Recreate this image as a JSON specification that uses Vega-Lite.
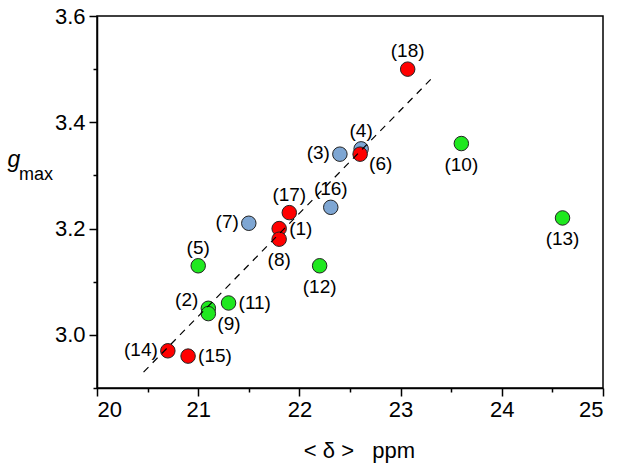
{
  "$schema": "https://vega.github.io/schema/vega-lite/v6.json",
  "width": 506,
  "height": 372,
  "autosize": "none",
  "padding": {"left": 97, "top": 16, "right": 21, "bottom": 80},
  "background": "white",
  "config": {
    "font": "Liberation Sans",
    "view": {"stroke": "black", "strokeWidth": 1.5},
    "axis": {
      "grid": false,
      "domainColor": "black",
      "domainWidth": 1.5,
      "tickColor": "black",
      "tickWidth": 1.5,
      "labelColor": "black",
      "labelFont": "Liberation Sans",
      "labelFontSize": 22,
      "titleColor": "black",
      "titleFont": "Liberation Sans",
      "titleFontWeight": "normal"
    }
  },
  "title": {
    "text": "max",
    "anchor": "start",
    "frame": "group",
    "orient": "top",
    "fontSize": 18,
    "fontWeight": "normal",
    "font": "Liberation Sans",
    "color": "black",
    "baseline": "alphabetic",
    "offset": 0,
    "dx": -78,
    "dy": 193
  },
  "datasets": {
    "pts": [
      {"id": 1, "label": "(1)", "series": "I", "delta": 21.8, "g": 3.20},
      {"id": 2, "label": "(2)", "series": "III", "delta": 21.1, "g": 3.05},
      {"id": 3, "label": "(3)", "series": "II", "delta": 22.4, "g": 3.34},
      {"id": 4, "label": "(4)", "series": "II", "delta": 22.61, "g": 3.35},
      {"id": 5, "label": "(5)", "series": "III", "delta": 21.0, "g": 3.13},
      {"id": 6, "label": "(6)", "series": "I", "delta": 22.6, "g": 3.34},
      {"id": 7, "label": "(7)", "series": "II", "delta": 21.5, "g": 3.21},
      {"id": 8, "label": "(8)", "series": "I", "delta": 21.8, "g": 3.18},
      {"id": 9, "label": "(9)", "series": "III", "delta": 21.1, "g": 3.04},
      {"id": 10, "label": "(10)", "series": "III", "delta": 23.6, "g": 3.36},
      {"id": 11, "label": "(11)", "series": "III", "delta": 21.3, "g": 3.06},
      {"id": 12, "label": "(12)", "series": "III", "delta": 22.2, "g": 3.13},
      {"id": 13, "label": "(13)", "series": "III", "delta": 24.6, "g": 3.22},
      {"id": 14, "label": "(14)", "series": "I", "delta": 20.7, "g": 2.97},
      {"id": 15, "label": "(15)", "series": "I", "delta": 20.9, "g": 2.96},
      {"id": 16, "label": "(16)", "series": "II", "delta": 22.31, "g": 3.24},
      {"id": 17, "label": "(17)", "series": "I", "delta": 21.9, "g": 3.23},
      {"id": 18, "label": "(18)", "series": "I", "delta": 23.07, "g": 3.50}
    ],
    "fit": [
      {"delta": 20.46, "g": 2.93},
      {"delta": 23.31, "g": 3.483}
    ]
  },
  "encoding": {
    "x": {
      "field": "delta",
      "type": "quantitative",
      "scale": {"domain": [20, 25], "nice": false, "zero": false},
      "axis": {
        "values": [20, 20.5, 21, 21.5, 22, 22.5, 23, 23.5, 24, 24.5, 25],
        "labelExpr": "datum.value % 1 === 0 ? format(datum.value, 'd') : ''",
        "tickSize": {"condition": {"test": "datum.value % 1 === 0", "value": 8}, "value": 4},
        "labelPadding": 3,
        "title": "<\u00a0δ\u00a0>\u00a0\u00a0\u00a0ppm",
        "titleFontSize": 22,
        "titleX": 262,
        "titleY": 62,
        "titleBaseline": "middle",
        "titleAlign": "center"
      }
    },
    "y": {
      "field": "g",
      "type": "quantitative",
      "scale": {"domain": [2.9, 3.6], "nice": false, "zero": false},
      "axis": {
        "values": [2.9, 3.0, 3.1, 3.2, 3.3, 3.4, 3.5, 3.6],
        "labelExpr": "round(datum.value * 10) % 2 === 0 ? format(datum.value, '.1f') : ''",
        "tickSize": {"condition": {"test": "round(datum.value * 10) % 2 === 0", "value": 8}, "value": 4},
        "labelPadding": 4,
        "title": "g",
        "titleFontSize": 23,
        "titleFontStyle": "italic",
        "titleAngle": 0,
        "titleAlign": "left",
        "titleBaseline": "alphabetic",
        "titleX": -90,
        "titleY": 150
      }
    }
  },
  "layer": [
    {
      "data": {"name": "pts"},
      "mark": {"type": "circle", "size": 210, "opacity": 1, "stroke": "#222222", "strokeWidth": 1},
      "encoding": {
        "color": {
          "field": "series",
          "type": "nominal",
          "scale": {"domain": ["I", "II", "III"], "range": ["#ff0000", "#7ea6d3", "#1fe81f"]},
          "legend": null
        }
      }
    },
    {
      "data": {"name": "fit"},
      "mark": {"type": "line", "color": "black", "strokeWidth": 1.2, "strokeDash": [7, 6]},
      "encoding": {}
    },
    {
      "data": {"name": "pts"},
      "transform": [{"filter": "indexof([18, 4, 16, 17, 5], datum.id) >= 0"}],
      "mark": {"type": "text", "fontSize": 19, "color": "black", "align": "center", "baseline": "middle", "dy": -18},
      "encoding": {"text": {"field": "label"}}
    },
    {
      "data": {"name": "pts"},
      "transform": [{"filter": "indexof([10, 13, 12, 8], datum.id) >= 0"}],
      "mark": {"type": "text", "fontSize": 19, "color": "black", "align": "center", "baseline": "middle", "dy": 21},
      "encoding": {"text": {"field": "label"}}
    },
    {
      "data": {"name": "pts"},
      "transform": [{"filter": "indexof([3, 7, 14], datum.id) >= 0"}],
      "mark": {"type": "text", "fontSize": 19, "color": "black", "align": "right", "baseline": "middle", "dx": -10, "dy": -1},
      "encoding": {"text": {"field": "label"}}
    },
    {
      "data": {"name": "pts"},
      "transform": [{"filter": "datum.id === 2"}],
      "mark": {"type": "text", "fontSize": 19, "color": "black", "align": "right", "baseline": "middle", "dx": -10, "dy": -8},
      "encoding": {"text": {"field": "label"}}
    },
    {
      "data": {"name": "pts"},
      "transform": [{"filter": "indexof([1, 11, 15], datum.id) >= 0"}],
      "mark": {"type": "text", "fontSize": 19, "color": "black", "align": "left", "baseline": "middle", "dx": 10, "dy": 0},
      "encoding": {"text": {"field": "label"}}
    },
    {
      "data": {"name": "pts"},
      "transform": [{"filter": "indexof([6, 9], datum.id) >= 0"}],
      "mark": {"type": "text", "fontSize": 19, "color": "black", "align": "left", "baseline": "middle", "dx": 9, "dy": 10},
      "encoding": {"text": {"field": "label"}}
    }
  ]
}
